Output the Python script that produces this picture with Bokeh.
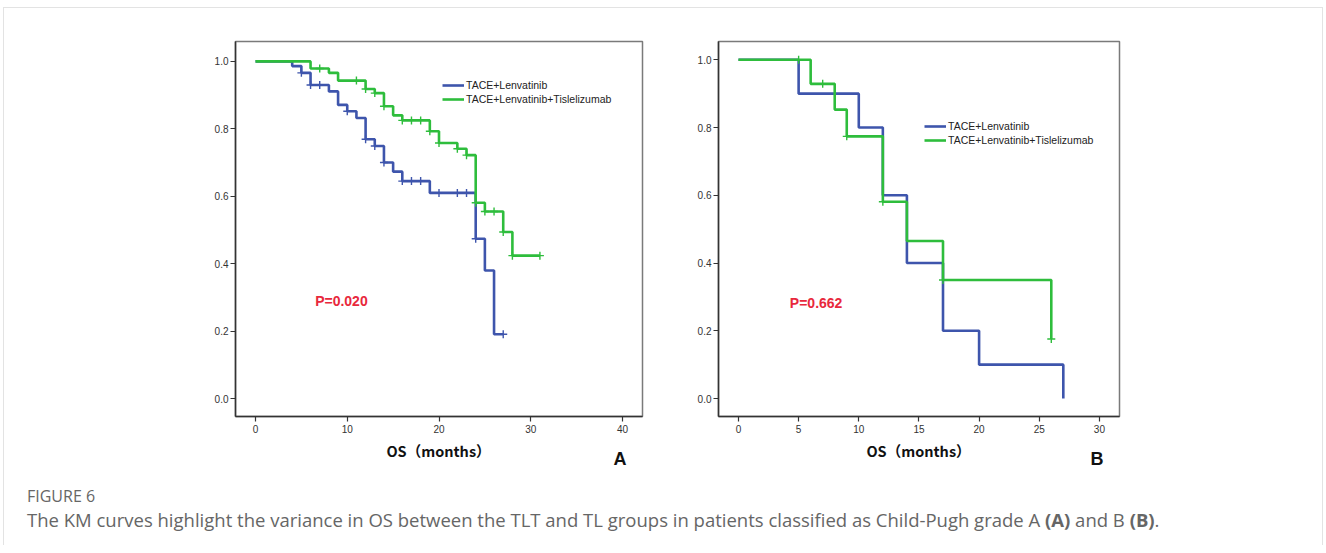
from bokeh.plotting import figure
from bokeh.models import Legend, LegendItem, Label, Div, FixedTicker
from bokeh.layouts import row, column
from bokeh.embed import file_html
from bokeh.resources import INLINE

# ---------------- data ----------------
groups = ["TACE+Lenvatinib", "TACE+Lenvatinib+Tislelizumab"]

# Panel A (Child-Pugh A)
A_TL_time = [0, 4, 5, 6, 8, 9, 10, 11, 12, 13, 14, 15, 16, 19, 24, 25, 26, 27]
A_TL_surv = [1.0, 0.986, 0.966, 0.930, 0.911, 0.871, 0.852, 0.832, 0.769, 0.749,
             0.700, 0.673, 0.645, 0.610, 0.474, 0.380, 0.191, 0.191]
A_TL_cens_time = [5, 6, 7, 10, 12, 13, 14, 16, 17, 18, 20, 22, 23, 24, 27]
A_TL_cens_surv = [0.966, 0.930, 0.930, 0.852, 0.769, 0.749, 0.700, 0.645, 0.645,
                  0.645, 0.610, 0.610, 0.610, 0.474, 0.191]

A_TLT_time = [0, 6, 8, 9, 12, 13, 14, 15, 16, 19, 20, 22, 23, 24, 25, 27, 28, 31]
A_TLT_surv = [1.0, 0.979, 0.966, 0.943, 0.918, 0.906, 0.867, 0.840, 0.825, 0.793,
              0.758, 0.741, 0.722, 0.581, 0.555, 0.494, 0.424, 0.424]
A_TLT_cens_time = [7, 11, 12, 13, 14, 16, 17, 18, 19, 20, 22, 23, 24, 25, 26, 27, 28, 31]
A_TLT_cens_surv = [0.979, 0.943, 0.918, 0.906, 0.867, 0.825, 0.825, 0.825, 0.793,
                   0.758, 0.741, 0.722, 0.581, 0.555, 0.555, 0.494, 0.424, 0.424]

# Panel B (Child-Pugh B)
B_TL_time = [0, 5, 10, 12, 14, 17, 20, 27]
B_TL_surv = [1.0, 0.9, 0.8, 0.6, 0.4, 0.2, 0.1, 0.0]

B_TLT_time = [0, 6, 8, 9, 12, 14, 17, 26]
B_TLT_surv = [1.0, 0.929, 0.853, 0.774, 0.581, 0.465, 0.350, 0.176]
B_TLT_cens_time = [5, 7, 9, 12, 17, 26]
B_TLT_cens_surv = [1.0, 0.929, 0.774, 0.581, 0.350, 0.176]

A_xticks = [0, 10, 20, 30, 40]
B_xticks = [0, 5, 10, 15, 20, 25, 30]
yticks = [0.0, 0.2, 0.4, 0.6, 0.8, 1.0]
p_values = ["P=0.020", "P=0.662"]
panel_letters = ["A", "B"]
x_title = "OS（months）"
fig_label = "FIGURE 6"
caption_text = ("The KM curves highlight the variance in OS between the TLT and TL groups "
                "in patients classified as Child-Pugh grade A <b>(A)</b> and B <b>(B)</b>.")

BLUE = "#3E55AC"
GREEN = "#2EBD3C"
RED = "#E8283C"
TICK_FONT = "Liberation Sans"


def style(p, xticks):
    p.xaxis.ticker = FixedTicker(ticks=xticks)
    p.yaxis.ticker = FixedTicker(ticks=yticks)
    p.yaxis.major_label_overrides = {t: f"{t:.1f}" for t in yticks}
    p.xgrid.visible = False
    p.ygrid.visible = False
    for ax in (p.xaxis, p.yaxis):
        ax.minor_tick_line_color = None
        ax.major_tick_in = 0
        ax.major_tick_out = 5
        ax.axis_line_color = "#333333"
        ax.axis_line_width = 1.5
        ax.major_tick_line_color = "#333333"
        ax.major_tick_line_width = 1.2
        ax.major_label_text_font = TICK_FONT
        ax.major_label_text_font_size = "10px"
        ax.major_label_text_color = "#333333"
    p.xaxis.major_label_standoff = 3
    p.yaxis.major_label_standoff = 2
    p.outline_line_color = "#7a7a7a"
    p.outline_line_width = 1.5
    p.background_fill_color = "white"
    p.border_fill_color = "white"


def panel(width, mb_left, mb_right, mb_top, mb_bottom, xr, yr, xticks,
          tl, tlt, tl_cens, tlt_cens, pval, pxy, legend_loc):
    p = figure(width=width, height=432, x_range=xr, y_range=yr,
               output_backend="svg", toolbar_location=None,
               min_border_left=mb_left, min_border_right=mb_right,
               min_border_top=mb_top, min_border_bottom=mb_bottom)
    style(p, xticks)
    r1 = p.step(tl[0], tl[1], mode="after", line_color=BLUE, line_width=2.6)
    r2 = p.step(tlt[0], tlt[1], mode="after", line_color=GREEN, line_width=2.6)
    if tl_cens is not None:
        p.scatter(tl_cens[0], tl_cens[1], marker="cross", size=8,
                  line_color=BLUE, line_width=1.4)
    if tlt_cens is not None:
        p.scatter(tlt_cens[0], tlt_cens[1], marker="cross", size=8,
                  line_color=GREEN, line_width=1.4)
    legend = Legend(items=[LegendItem(label=groups[0], renderers=[r1]),
                           LegendItem(label=groups[1], renderers=[r2])],
                    location=legend_loc, orientation="vertical",
                    background_fill_alpha=0, border_line_alpha=0,
                    padding=0, margin=0, spacing=0,
                    glyph_width=22, glyph_height=14, label_height=14,
                    label_standoff=2, label_text_font=TICK_FONT,
                    label_text_font_size="10.5px", label_text_color="#222222")
    p.add_layout(legend, "center")
    p.add_layout(Label(x=pxy[0], y=pxy[1], text=pval, text_color=RED,
                       text_font="Liberation Sans", text_font_style="bold",
                       text_font_size="14px", text_baseline="middle",
                       text_align="left"))
    return p


def label_row(width, title_x, letter, letter_x):
    html = (
        f'<div style="position:relative;width:{width}px;height:40px;white-space:nowrap;">'
        f'<span style="position:absolute;left:{title_x}px;top:11px;transform:translate(-50%,-50%);'
        f'font-family:\'Noto Sans CJK SC\';font-weight:bold;font-size:14.5px;color:#111;">{x_title}</span>'
        f'<span style="position:absolute;left:{letter_x}px;top:20px;transform:translate(-50%,-50%);'
        f'font-family:\'Liberation Sans\';font-weight:bold;font-size:18px;color:#111;">{letter}</span>'
        '</div>')
    return Div(width=width, height=40, text=html, margin=0)


pA = panel(680, 231, 42, 32, 24, (-2.18, 42.18), (-0.053, 1.059), A_xticks,
           (A_TL_time, A_TL_surv), (A_TLT_time, A_TLT_surv),
           (A_TL_cens_time, A_TL_cens_surv), (A_TLT_cens_time, A_TLT_cens_surv),
           p_values[0], (6.5, 0.289), (207, 310))

pB = panel(638, 34, 203, 33, 23, (-1.66, 31.67), (-0.053, 1.054), B_xticks,
           (B_TL_time, B_TL_surv), (B_TLT_time, B_TLT_surv),
           None, (B_TLT_cens_time, B_TLT_cens_surv),
           p_values[1], (4.27, 0.282), (206, 269))

labA = label_row(680, 434.5, panel_letters[0], 616)
labB = label_row(638, 234.5, panel_letters[1], 413)

caption = Div(width=1318, height=65, margin=0, text=(
    '<div style="padding-left:23px;font-family:\'Open Sans\';white-space:nowrap;">'
    f'<div style="font-size:16px;line-height:20px;margin-top:6px;color:#666;">{fig_label}</div>'
    f'<div style="font-size:18.5px;line-height:26px;margin-top:1px;color:#666;">{caption_text}</div>'
    '</div>'))

layout = column(row(pA, pB), row(labA, labB), caption, margin=(7, 0, 0, 3),
                styles={"border-top": "1px solid #e3e3e3",
                        "border-left": "1px solid #e3e3e3",
                        "border-right": "1px solid #e3e3e3"})

open("out.html", "w").write(file_html(layout, INLINE))
